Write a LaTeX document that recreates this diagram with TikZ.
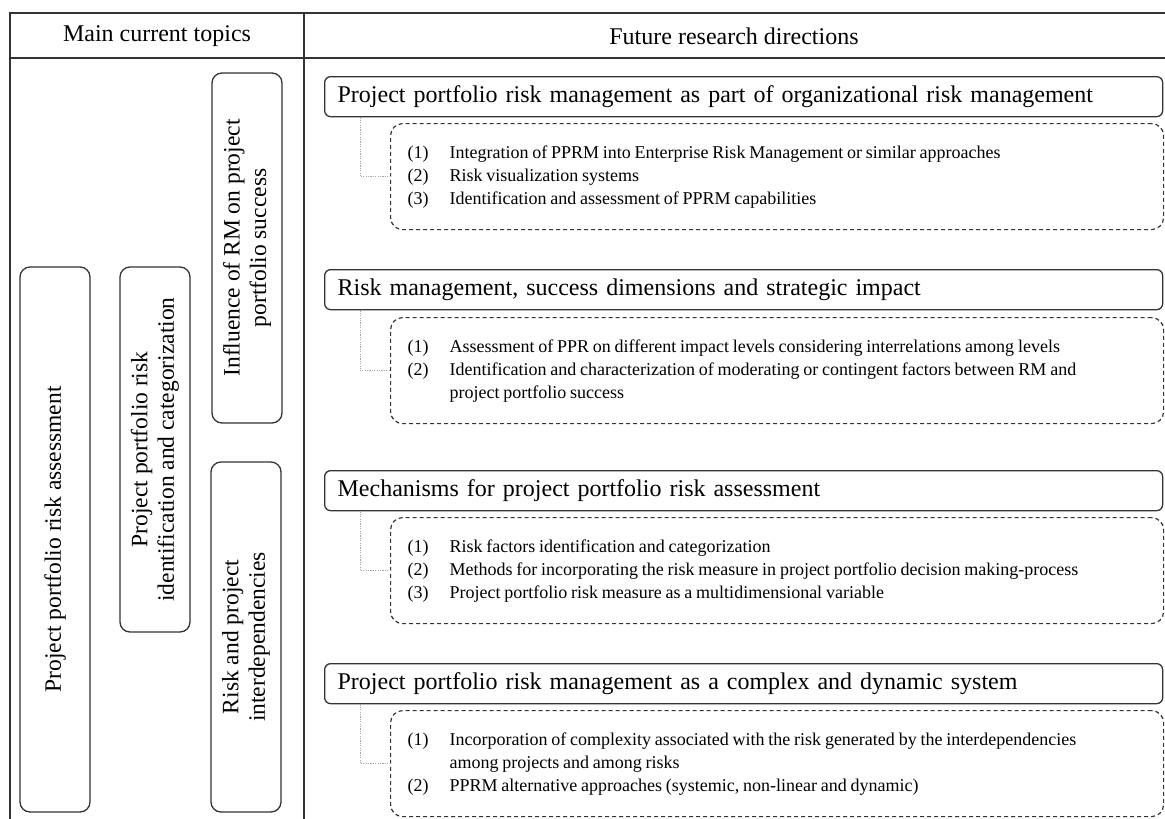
\documentclass[tikz,border=0pt]{standalone}
\usepackage{fontspec}
\setmainfont{Liberation Serif}
\usepackage{array}
\usetikzlibrary{calc,positioning}
\newcommand{\itemlist}[1]{\fontsize{18}{23}\selectfont\spaceskip=0.21em plus 0.1em
  \begin{tabular}{@{}p{42pt}@{}p{700pt}@{}}#1\end{tabular}}

\begin{document}
\begin{tikzpicture}[x=1pt,y=-1pt,
                    every node/.style={font=\fontsize{24}{27}\selectfont},
                    grid/.style={draw=black!80,line width=1.4pt},
                    topic/.style={draw=black!80,line width=1.3pt,rounded corners=10pt,rotate=90,
                                  minimum height=70pt,align=center,inner sep=0pt,
                                  font=\fontsize{23.5}{26.5}\selectfont},
                    direction/.style={draw=black!80,line width=1.3pt,rounded corners=6pt,anchor=north west,
                                      minimum height=40pt,text width=812pt,inner xsep=13pt,inner ysep=0pt,align=left},
                    items/.style={draw=black!80,line width=1.2pt,dash pattern=on 4pt off 3pt,rounded corners=12pt,
                                  anchor=north west,minimum height=106pt,text width=739pt,inner xsep=17pt,align=left},
                    link/.style={draw=black!35,line width=0.8pt,dash pattern=on 1.2pt off 1.2pt}]
\useasboundingbox (0,0) rectangle (1165,819);
% table
\draw[grid] (1165,13) -- (10,13) -- (10,819);
\draw[grid] (10,58) -- (1165,58);
\draw[grid] (304,13) -- (304,819);
\node (hl) at (157,36) {Main current topics};
\node (hr) at (734,36) {Future research directions};
%
% main current topics
\node[topic,minimum width=545pt] (a) at (55,539.5) {Project portfolio risk assessment};
\node[topic,minimum width=365pt] (b) at (155,449.5) {Project portfolio risk\\identification and categorization};
\node[topic,minimum width=350pt] (c) at (247,248) {Influence of RM on project\\portfolio success};
\node[topic,minimum width=350pt] (d) at (246,637) {Risk and project\\interdependencies};
%
% future research directions
\node[direction] (t1) at (324,76)  {Project portfolio risk management as part of organizational risk management};
\node[items]     (d1) at (390,123) {\itemlist{
  (1) & Integration of PPRM into Enterprise Risk Management or similar approaches\\
  (2) & Risk visualization systems\\
  (3) & Identification and assessment of PPRM capabilities}};
%
\node[direction] (t2) at (324,269) {Risk management, success dimensions and strategic impact};
\node[items]     (d2) at (390,317) {\itemlist{
  (1) & Assessment of PPR on different impact levels considering interrelations among levels\\
  (2) & Identification and characterization of moderating or contingent factors between RM and\newline project portfolio success}};
%
\node[direction] (t3) at (324,470) {Mechanisms for project portfolio risk assessment};
\node[items]     (d3) at (390,517) {\itemlist{
  (1) & Risk factors identification and categorization\\
  (2) & Methods for incorporating the risk measure in project portfolio decision making-process\\
  (3) & Project portfolio risk measure as a multidimensional variable}};
%
\node[direction] (t4) at (324,663) {Project portfolio risk management as a complex and dynamic system};
\node[items]     (d4) at (390,710) {\itemlist{
  (1) & Incorporation of complexity associated with the risk generated by the interdependencies\newline among projects and among risks\\
  (2) & PPRM alternative approaches (systemic, non-linear and dynamic)}};
%
\path[link]
  ([xshift=36pt]t1.south west) edge[to path={|- (\tikztotarget)}] (d1.west)
  ([xshift=36pt]t2.south west) edge[to path={|- (\tikztotarget)}] (d2.west)
  ([xshift=36pt]t3.south west) edge[to path={|- (\tikztotarget)}] (d3.west)
  ([xshift=36pt]t4.south west) edge[to path={|- (\tikztotarget)}] (d4.west)
  ;
\end{tikzpicture}
\end{document}
